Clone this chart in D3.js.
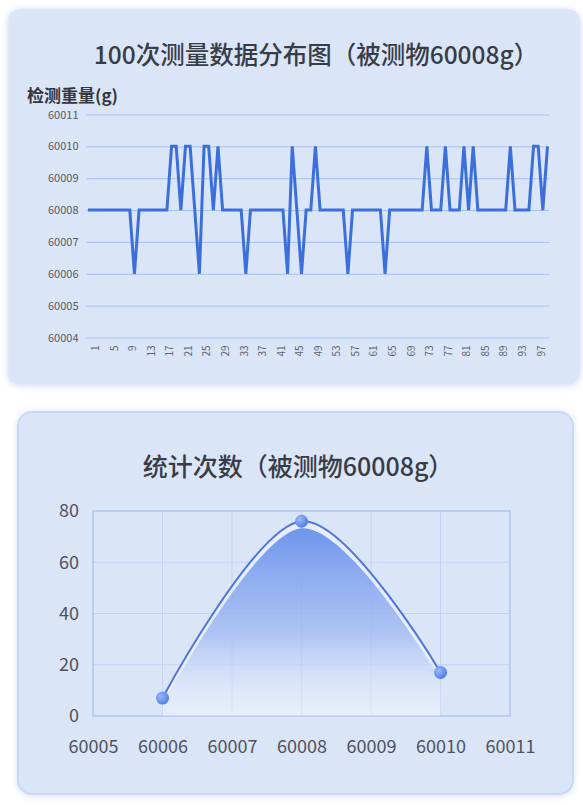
<!DOCTYPE html>
<html>
<head>
<meta charset="utf-8">
<script src="https://cdn.jsdelivr.net/npm/d3@7"></script>
<style>
  html, body { margin: 0; padding: 0; background: #fff; }
  svg { display: block; font-family: "Noto Sans CJK SC", "Noto Sans", sans-serif; }
</style>
</head>
<body>
<svg id="chart" width="583" height="805"></svg>
<script>
const weights = [
  60008, 60008, 60008, 60008, 60008, 60008, 60008, 60008, 60008, 60008,
  60006, 60008, 60008, 60008, 60008, 60008, 60008, 60008, 60010, 60010,
  60008, 60010, 60010, 60008, 60006, 60010, 60010, 60008, 60010, 60008,
  60008, 60008, 60008, 60008, 60006, 60008, 60008, 60008, 60008, 60008,
  60008, 60008, 60008, 60006, 60010, 60008, 60006, 60008, 60008, 60010,
  60008, 60008, 60008, 60008, 60008, 60008, 60006, 60008, 60008, 60008,
  60008, 60008, 60008, 60008, 60006, 60008, 60008, 60008, 60008, 60008,
  60008, 60008, 60008, 60010, 60008, 60008, 60008, 60010, 60008, 60008,
  60008, 60010, 60008, 60010, 60008, 60008, 60008, 60008, 60008, 60008,
  60008, 60010, 60008, 60008, 60008, 60008, 60010, 60010, 60008, 60010
];
const indexTicks = [1, 5, 9, 13, 17, 21, 25, 29, 33, 37, 41, 45, 49, 53, 57, 61, 65, 69, 73, 77, 81, 85, 89, 93, 97];
const weightTicks = [60004, 60005, 60006, 60007, 60008, 60009, 60010, 60011];

// frequency chart
const countWeights = [60006, 60008, 60010];
const counts = [7, 76, 17];
const countXTicks = [60005, 60006, 60007, 60008, 60009, 60010, 60011];
const countYTicks = [0, 20, 40, 60, 80];

const svg = d3.select("#chart");
const defs = svg.append("defs");

// soft shadow for the cards
const shadow = defs.append("filter").attr("id", "cardShadow")
  .attr("x", "-10%").attr("y", "-10%").attr("width", "120%").attr("height", "120%");
shadow.append("feDropShadow")
  .attr("dx", 0).attr("dy", 1).attr("stdDeviation", 3)
  .attr("flood-color", "#9fb6ea").attr("flood-opacity", 0.45);

const areaGrad = defs.append("linearGradient").attr("id", "areaGrad")
  .attr("x1", 0).attr("y1", 0).attr("x2", 0).attr("y2", 1);
areaGrad.append("stop").attr("offset", "0%").attr("stop-color", "#6890ec").attr("stop-opacity", 0.95);
areaGrad.append("stop").attr("offset", "55%").attr("stop-color", "#8aa8f0").attr("stop-opacity", 0.6);
areaGrad.append("stop").attr("offset", "100%").attr("stop-color", "#dce6f8").attr("stop-opacity", 0);

const dotGrad = defs.append("radialGradient").attr("id", "dotGrad")
  .attr("cx", "35%").attr("cy", "35%").attr("r", "70%");
dotGrad.append("stop").attr("offset", "0%").attr("stop-color", "#9cb8f8");
dotGrad.append("stop").attr("offset", "100%").attr("stop-color", "#4d7ce9");

// cards
svg.append("rect")
  .attr("x", 8).attr("y", 9).attr("width", 572).attr("height", 376).attr("rx", 12)
  .attr("fill", "#dbe5f8").attr("stroke", "#e4ebfa").attr("stroke-width", 1)
  .attr("filter", "url(#cardShadow)");

svg.append("rect")
  .attr("x", 18).attr("y", 412).attr("width", 555).attr("height", 382).attr("rx", 14)
  .attr("fill", "#dbe5f8").attr("stroke", "#c9d8f7").attr("stroke-width", 2)
  .attr("filter", "url(#cardShadow)");

// ---------- top chart: measurement sequence ----------
const seqBox = { left: 86.5, right: 549, top: 114.5, bottom: 337.5 };

svg.append("text")
  .attr("x", 316).attr("y", 53)
  .attr("text-anchor", "middle").attr("dominant-baseline", "central")
  .attr("font-size", 24.5).attr("font-weight", 500).attr("fill", "#383c46")
  .text("100次测量数据分布图（被测物60008g）");

svg.append("text")
  .attr("x", 27).attr("y", 94)
  .attr("dominant-baseline", "central")
  .attr("font-size", 17).attr("font-weight", 700).attr("fill", "#33363d")
  .text("检测重量(g)");

const x1 = d3.scalePoint()
  .domain(weights.map((_, i) => i + 1))
  .range([seqBox.left, seqBox.right])
  .padding(0.33);

const y1 = d3.scaleLinear()
  .domain([60004, 60011])
  .range([seqBox.bottom, seqBox.top]);

const g1 = svg.append("g");

// horizontal grid + y labels
g1.append("g")
  .attr("transform", `translate(${seqBox.left},0)`)
  .call(d3.axisLeft(y1).tickValues(weightTicks).tickSize(-(seqBox.right - seqBox.left)).tickFormat(d3.format("d")))
  .call(g => g.select(".domain").remove())
  .call(g => g.selectAll(".tick line").attr("stroke", "#a8bff0").attr("stroke-width", 1))
  .call(g => g.selectAll(".tick text")
    .attr("x", -8).attr("font-size", 11).attr("fill", "#555a66")
    .attr("font-family", "'Noto Sans CJK SC', sans-serif"));

// x labels (rotated)
g1.append("g")
  .attr("transform", `translate(0,${seqBox.bottom})`)
  .call(d3.axisBottom(x1).tickValues(indexTicks).tickSize(0))
  .call(g => g.select(".domain").remove())
  .call(g => g.selectAll(".tick text")
    .attr("transform", "rotate(-90)")
    .attr("x", -8).attr("y", 6).attr("dy", null)
    .attr("text-anchor", "end").attr("dominant-baseline", "central")
    .attr("font-size", 10).attr("fill", "#5f6470")
    .attr("font-family", "'Noto Sans CJK SC', sans-serif"));

const line1 = d3.line()
  .x((d, i) => x1(i + 1))
  .y(d => y1(d));

g1.append("path")
  .datum(weights)
  .attr("d", line1)
  .attr("fill", "none")
  .attr("stroke", "#3b6fdb")
  .attr("stroke-width", 3)
  .attr("stroke-linejoin", "miter");

// ---------- bottom chart: counts ----------
const cntBox = { left: 93, right: 510, top: 511, bottom: 716 };

svg.append("text")
  .attr("x", 298).attr("y", 465)
  .attr("text-anchor", "middle").attr("dominant-baseline", "central")
  .attr("font-size", 25).attr("font-weight", 500).attr("fill", "#383c46")
  .text("统计次数（被测物60008g）");

const x2 = d3.scaleLinear().domain([60005, 60011]).range([cntBox.left, cntBox.right]);
const y2 = d3.scaleLinear().domain([0, 80]).range([cntBox.bottom, cntBox.top]);

const g2 = svg.append("g");

defs.append("clipPath").attr("id", "plotClip")
  .append("rect")
  .attr("x", cntBox.left).attr("y", cntBox.top)
  .attr("width", cntBox.right - cntBox.left).attr("height", cntBox.bottom - cntBox.top);

// grid
g2.append("g")
  .selectAll("line")
  .data(countXTicks.slice(1, -1))
  .join("line")
  .attr("x1", d => x2(d)).attr("x2", d => x2(d))
  .attr("y1", cntBox.top).attr("y2", cntBox.bottom)
  .attr("stroke", "#c3d2f3").attr("stroke-width", 1);

g2.append("g")
  .selectAll("line")
  .data(countYTicks.slice(1, -1))
  .join("line")
  .attr("x1", cntBox.left).attr("x2", cntBox.right)
  .attr("y1", d => y2(d)).attr("y2", d => y2(d))
  .attr("stroke", "#c3d2f3").attr("stroke-width", 1);

g2.append("rect")
  .attr("x", cntBox.left).attr("y", cntBox.top)
  .attr("width", cntBox.right - cntBox.left).attr("height", cntBox.bottom - cntBox.top)
  .attr("fill", "none").attr("stroke", "#a6bdf0").attr("stroke-width", 1.2);

// axes labels
g2.append("g")
  .attr("transform", `translate(${cntBox.left},0)`)
  .call(d3.axisLeft(y2).tickValues(countYTicks).tickSize(0))
  .call(g => g.select(".domain").remove())
  .call(g => g.selectAll(".tick text")
    .attr("x", -14).attr("font-size", 18).attr("fill", "#4f535d")
    .attr("font-family", "'Noto Sans CJK SC', sans-serif"));

g2.append("g")
  .attr("transform", `translate(0,${cntBox.bottom})`)
  .call(d3.axisBottom(x2).tickValues(countXTicks).tickSize(0).tickFormat(d3.format("d")))
  .call(g => g.select(".domain").remove())
  .call(g => g.selectAll(".tick text")
    .attr("y", 29).attr("dy", "0")
    .attr("dominant-baseline", "central")
    .attr("font-size", 18).attr("fill", "#4f535d")
    .attr("font-family", "'Noto Sans CJK SC', sans-serif"));

const pts = countWeights.map((w, i) => ({ w, c: counts[i] }));

const area2 = d3.area()
  .x(d => x2(d.w))
  .y0(y2(0))
  .y1(d => y2(d.c))
  .curve(d3.curveCardinal.tension(0));

const line2 = d3.line()
  .x(d => x2(d.w))
  .y(d => y2(d.c))
  .curve(d3.curveCardinal.tension(0));

const clipped = g2.append("g").attr("clip-path", "url(#plotClip)");

// light band just under the curve
clipped.append("path")
  .datum(pts)
  .attr("d", area2)
  .attr("fill", "#ffffff")
  .attr("opacity", 0.35);

// gradient fill, offset below the line
clipped.append("path")
  .datum(pts)
  .attr("d", area2)
  .attr("transform", "translate(0,7)")
  .attr("fill", "url(#areaGrad)");

g2.append("path")
  .datum(pts)
  .attr("d", line2)
  .attr("fill", "none")
  .attr("stroke", "#4d76dc")
  .attr("stroke-width", 2);

g2.selectAll("circle")
  .data(pts)
  .join("circle")
  .attr("cx", d => x2(d.w))
  .attr("cy", d => y2(d.c))
  .attr("r", 6.5)
  .attr("fill", "url(#dotGrad)");
</script>
</body>
</html>
